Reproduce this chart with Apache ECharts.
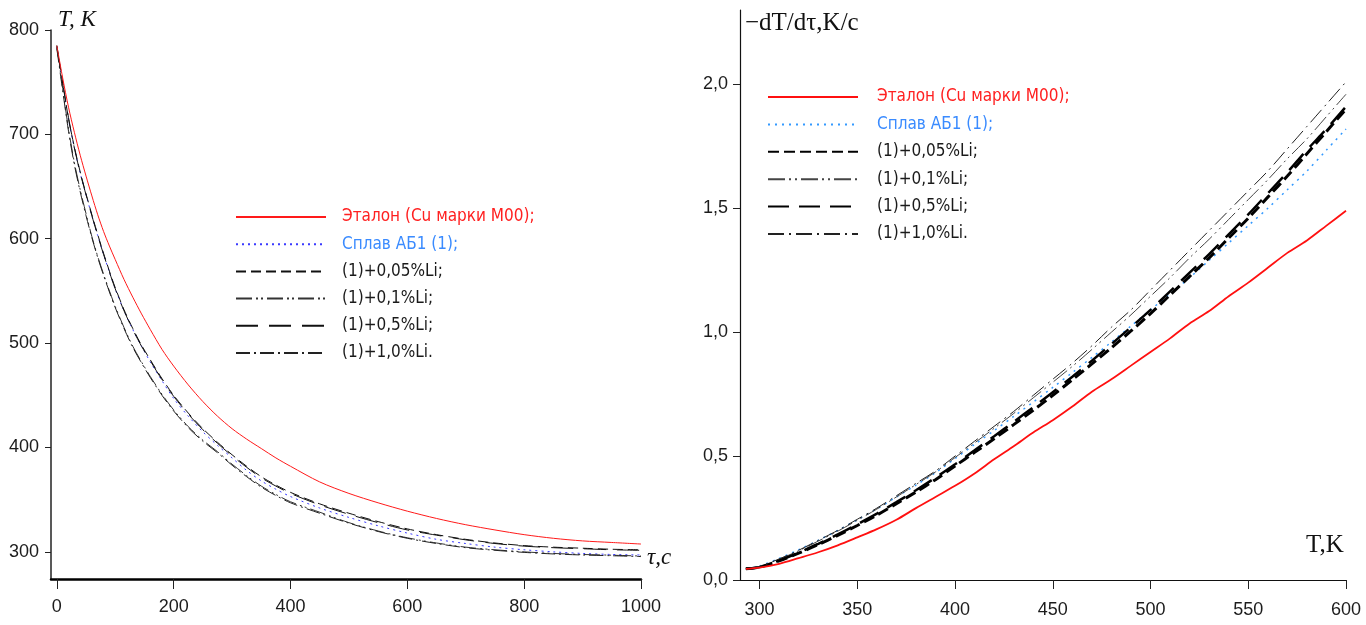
<!DOCTYPE html>
<html><head><meta charset="utf-8">
<script src="https://cdn.jsdelivr.net/npm/echarts@6/dist/echarts.min.js"></script>
<style>html,body{margin:0;padding:0;background:#fff}#c{width:1366px;height:625px}</style>
</head><body><div id="c"></div>
<script>
// ---------- labels ----------
const legendLabels = ['Эталон (Cu марки М00);','Сплав АБ1 (1);','(1)+0,05%Li;','(1)+0,1%Li;','(1)+0,5%Li;','(1)+1,0%Li.'];

// ---------- left chart: T (K) vs tau (s) ----------
const tau = [0,10,20,30,40,50,60,70,80,90,100,115,130,145,160,180,200,225,250,275,300,325,350,375,400,450,500,550,600,650,700,750,800,850,900,950,1000];
const T_etalon = [785,754,726,702,680,660,641,623,607,593,580,561,544,528,513,494,478,460,444,430,418,408,399,390,382,367,356,347,339,332,326,321,316.5,313,310.5,309,307.5];
const T_ab1    = [784,749,714,687,663,642,622,603,585,568,552,531,513,497,482,464,447,430,415,402,390,378,368,360,353,342,333,325,318,312,308,304.5,302,300,298.5,297.5,297];
const T_li005  = [785,750,715,688,664,643,623,604,586,569,553,532,514,498,484,466,450,433,418,405,393,382,372,364,357,346,337,329,322,316.5,312,308.5,306,304.5,303.5,302.5,302];
const T_li01   = [785,744,705,673,647,624,602,583,566,550,535,515,497,482,468,451,436,420,407,396,384,373,363,355,348,338,328,320,313.5,308.5,304.5,302,300,298.5,297.5,296.8,296];
const T_li05   = [783,749,716,687,663,642,622,603,585,568,552,531,513,497,483,465,449,432,417,404,392,381,371,363,356,345,336,328,321,316,311.5,308,305.5,304,303,302,301.5];
const T_li10   = [782,742,703,671,645,622,601,582,565,549,534,514,496,481,467,450,435,419,406,395,383,372,362,354,347,337,327.5,319.5,313,308,304,301.5,299.5,298,297,296.3,295.5];
const leftXTicks = [0,200,400,600,800,1000];
const leftYTicks = [300,400,500,600,700,800];

// ---------- right chart: -dT/dtau (K/s) vs T (K) ----------
const Tk = [293,300,310,320,330,340,350,360,370,380,390,400,410,420,430,440,450,460,470,480,490,500,510,520,530,540,550,560,570,580,590,600];
const R_etalon = [.045,.050,.065,.088,.112,.140,.172,.205,.243,.290,.335,.380,.430,.487,.540,.595,.645,.700,.760,.810,.865,.920,.975,1.035,1.085,1.145,1.20,1.26,1.32,1.37,1.43,1.49];
const R_ab1    = [.045,.056,.087,.122,.160,.200,.243,.287,.335,.383,.433,.490,.547,.603,.660,.718,.777,.837,.898,.960,1.025,1.09,1.155,1.22,1.29,1.36,1.43,1.50,1.575,1.65,1.735,1.82];
const R_li005  = [.045,.052,.077,.108,.143,.180,.220,.262,.308,.355,.405,.460,.515,.570,.627,.685,.745,.808,.872,.937,1.005,1.075,1.15,1.225,1.30,1.38,1.46,1.545,1.63,1.72,1.81,1.90];
const R_li01   = [.045,.055,.084,.118,.157,.197,.241,.286,.335,.385,.436,.494,.553,.612,.672,.735,.798,.862,.930,1.00,1.07,1.145,1.22,1.30,1.375,1.455,1.535,1.615,1.70,1.78,1.87,1.96];
const R_li05   = [.045,.052,.079,.110,.146,.184,.225,.268,.314,.362,.413,.467,.523,.580,.638,.697,.758,.820,.885,.952,1.02,1.09,1.165,1.24,1.315,1.395,1.475,1.56,1.645,1.735,1.82,1.91];
const R_li10   = [.045,.055,.085,.120,.160,.200,.245,.290,.340,.390,.440,.500,.560,.620,.680,.745,.810,.875,.945,1.02,1.09,1.17,1.25,1.33,1.41,1.49,1.57,1.65,1.74,1.83,1.92,2.01];
const rightXTicks = [300,350,400,450,500,550,600];
const rightYTicks = [0,0.5,1.0,1.5,2.0];

// ---------- font detection ----------
function fontAvailable(name){
  const c = document.createElement('canvas').getContext('2d');
  const s = 'abcdefghijklmnopqrstuvwxyzАБВГДЭ0123456789(),;%';
  const res = [];
  for (const base of ['monospace','serif']){
    c.font = '40px ' + base; const w0 = c.measureText(s).width;
    c.font = '40px "' + name + '", ' + base; const w1 = c.measureText(s).width;
    res.push(Math.abs(w0-w1) > 0.5);
  }
  return res[0] && res[1];
}
const narrowCands = ['Liberation Sans Narrow','Arial Narrow','DejaVu Sans Condensed','Open Sans Condensed','Roboto Condensed'];
let narrow = null;
for (const f of narrowCands){ if (fontAvailable(f)) { narrow = f; break; } }
const legendFamily = narrow ? "'" + narrow + "'" : "'Liberation Sans',Arial,sans-serif";
const legendSize = narrow === 'Liberation Sans Narrow' || narrow === 'Arial Narrow' ? 20 : 17;

// ---------- styles ----------
const leftStyles = [
  {color:'#ff1a1a', width:1, type:'solid'},
  {color:'#3a3aff', width:1, type:[2,4]},
  {color:'#111', width:1, type:[10,5]},
  {color:'#333', width:1, type:[16,4,2,3,2,4]},
  {color:'#111', width:1, type:[22,11]},
  {color:'#222', width:1, type:[14,4,2,4]}
];
const rightStyles = [
  {color:'#ff1010', width:1.8, type:'solid'},
  {color:'#3399ff', width:1.5, type:[2,5]},
  {color:'#000', width:3, type:[11,5]},
  {color:'#444', width:1, type:[17,4,2,4,2,4]},
  {color:'#000', width:2.5, type:[21,10]},
  {color:'#222', width:1, type:[16,5,2,5]}
];
const textColors = ['#ff2020','#3a8bff','#1a1a1a','#1a1a1a','#1a1a1a','#1a1a1a'];

const leftY = [T_etalon,T_ab1,T_li005,T_li01,T_li05,T_li10];
const rightY = [R_etalon,R_ab1,R_li005,R_li01,R_li05,R_li10];

const series = [];
leftY.forEach((arr,i)=>{
  series.push({name:'L'+i, type:'line', xAxisIndex:0, yAxisIndex:0, symbol:'none', smooth:0.3,
    lineStyle:leftStyles[i], itemStyle:{color:leftStyles[i].color},
    data: tau.map((t,k)=>[t,arr[k]]), z: i===0?3:2});
});
rightY.forEach((arr,i)=>{
  series.push({name:'R'+i, type:'line', xAxisIndex:1, yAxisIndex:1, symbol:'none', smooth:0.3,
    lineStyle:rightStyles[i], itemStyle:{color:rightStyles[i].color},
    data: Tk.map((t,k)=>[t,arr[k]]), z: i===0?3:2});
});

const tickFont = {fontFamily:"'Liberation Sans',Arial,sans-serif", fontSize:18, color:'#1c1c1c'};
const serif = "'Liberation Serif','DejaVu Serif',serif";

function legendFor(prefix, left, top, gap, padL){
  return {
    orient:'vertical', left:left, top:top, itemWidth:90, itemHeight:20, itemGap:gap,
    selectedMode:false,
    itemStyle:{opacity:0},
    textStyle:{fontFamily:legendFamily, fontSize:legendSize, lineHeight:20, padding:[0,0,0,padL]},
    formatter:(n)=>legendLabels[+n.slice(1)],
    data: legendLabels.map((l,i)=>({name:prefix+i, textStyle:{color:textColors[i]}}))
  };
}

const option = {
  animation:false,
  backgroundColor:'#fff',
  legend:[legendFor('L',230,202,7.2,11), legendFor('R',762,82,7.4,14)],
  grid:[
    {left:51, top:30, width:590, height:549},
    {left:740, top:10, width:606, height:570}
  ],
  xAxis:[
    {gridIndex:0, type:'value', min:-10, max:1000,
     axisLine:{onZero:false, lineStyle:{color:'#000', width:2.5}},
     axisTick:{length:10, customValues:leftXTicks, lineStyle:{color:'#222', width:1}},
     axisLabel:Object.assign({margin:19, customValues:leftXTicks, formatter:(v)=>String(v)}, tickFont),
     splitLine:{show:false}},
    {gridIndex:1, type:'value', min:290, max:600,
     axisLine:{onZero:false, lineStyle:{color:'#111', width:1.2}},
     axisTick:{length:9, customValues:rightXTicks, lineStyle:{color:'#222', width:1}},
     axisLabel:Object.assign({margin:21, customValues:rightXTicks, formatter:(v)=>String(v)}, tickFont),
     splitLine:{show:false}}
  ],
  yAxis:[
    {gridIndex:0, type:'value', min:274, max:800,
     axisLine:{show:true, onZero:false, lineStyle:{color:'#222', width:1.5}},
     axisTick:{show:true, length:6, customValues:leftYTicks, lineStyle:{color:'#222'}},
     axisLabel:Object.assign({margin:12, customValues:leftYTicks, formatter:(v)=>String(v)}, tickFont),
     splitLine:{show:false}},
    {gridIndex:1, type:'value', min:0, max:2.3,
     axisLine:{show:true, onZero:false, lineStyle:{color:'#111', width:1.2}},
     axisTick:{show:true, length:7, customValues:rightYTicks, lineStyle:{color:'#222'}},
     axisLabel:Object.assign({margin:12, customValues:rightYTicks, formatter:(v)=>v.toFixed(1).replace('.',',')}, tickFont),
     splitLine:{show:false}}
  ],
  graphic:[
    {type:'text', left:58, top:8, style:{text:'T, K', font:"italic 23px "+serif, fill:'#111'}},
    {type:'text', left:647, top:546, style:{text:'τ,c', font:"italic 23px "+serif, fill:'#111'}},
    {type:'text', left:745, top:11, style:{text:'−dT/dτ,K/c', font:"25px "+serif, fill:'#111'}},
    {type:'text', left:1306, top:533, style:{text:'T,K', font:"25px "+serif, fill:'#111'}}
  ],
  series:series
};
const chart = echarts.init(document.getElementById('c'), null, {renderer:'canvas'});
chart.setOption(option);
</script>
</body></html>
